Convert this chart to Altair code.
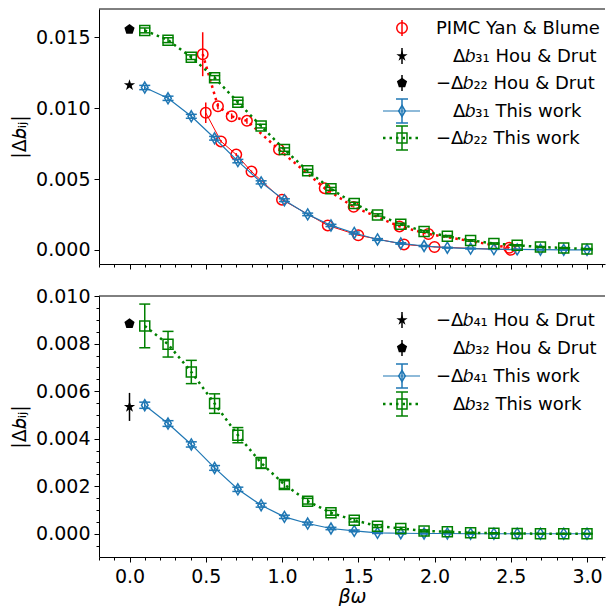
import altair as alt
import pandas as pd

FONT = "DejaVu Sans"

# ---------------- data ----------------
x_tw = [0.1, 0.2526, 0.4053, 0.5579, 0.7105, 0.8632, 1.0158, 1.1684, 1.3211, 1.4737,
        1.6263, 1.7789, 1.9316, 2.0842, 2.2368, 2.3895, 2.5421, 2.6947, 2.8474, 3.0]

b31_tw = [0.01146, 0.0107, 0.00943, 0.00788, 0.00627, 0.00477, 0.00351, 0.00251, 0.00173, 0.0012,
          0.00074, 0.00046, 0.00028, 0.00016, 0.0001, 0.00006, 0.00004, 0.00002, 0.00001, 0.00001]
b31_tw_err = [0.00015, 0.00015, 0.00014, 0.00013, 0.00012, 0.00011, 0.0001, 0.00009, 0.00008, 0.00007,
              0.00006, 0.00005, 0.00004, 0.00003, 0.00003, 0.00002, 0.00002, 0.00002, 0.00001, 0.00001]
b22_tw = [0.01549, 0.0148, 0.0136, 0.01215, 0.01042, 0.00874, 0.00708, 0.00558, 0.00431, 0.00327,
          0.00247, 0.00182, 0.00131, 0.00097, 0.00067, 0.00046, 0.00033, 0.00021, 0.00014, 0.00007]
b22_tw_err = [0.00017, 0.00017, 0.00016, 0.00015, 0.00014, 0.00013, 0.00012, 0.00011, 0.0001, 0.00009,
              0.00008, 0.00007, 0.00006, 0.00005, 0.00005, 0.00004, 0.00004, 0.00003, 0.00003, 0.00003]
b41_tw = [0.00541, 0.00464, 0.00376, 0.00277, 0.00187, 0.0012, 0.00071, 0.00043, 0.00022, 0.00012,
          0.00004, 0.00002, 0.00001, 0.00001, 0.0, 0.0, 0.0, 0.0, 0.0, 0.0]
b41_tw_err = [0.00013, 0.00012, 0.00011, 0.0001, 0.00009, 0.00008, 0.00007, 0.00006, 0.00005, 0.00004,
              0.00003, 0.00003, 0.00002, 0.00002, 0.00002, 0.00001, 0.00001, 0.00001, 0.00001, 0.00001]
b32_tw = [0.00875, 0.00798, 0.00681, 0.00548, 0.00415, 0.00298, 0.00207, 0.00137, 0.00088, 0.00057,
          0.00032, 0.00022, 0.00012, 0.00008, 0.00004, 0.00002, 0.00001, 0.0, 0.0, 0.0]
b32_tw_err = [0.00092, 0.00054, 0.00049, 0.00041, 0.00032, 0.00023, 0.00016, 0.00012, 0.0001, 0.00008,
              0.00006, 0.00005, 0.00004, 0.00003, 0.00002, 0.00002, 0.00001, 0.00001, 0.00001, 0.00001]

pimc31_x = [0.5, 0.6, 0.7, 0.8, 1.0, 1.3, 1.5, 1.8, 2.0, 2.5]
pimc31 = [0.00968, 0.00766, 0.00673, 0.00553, 0.00355, 0.00173, 0.00104, 0.00039, 0.00021, 0.00001]
pimc31_err = [0.00073, 0.0001, 0.0001, 0.00008, 0.00005, 0.00004, 0.00003, 0.00002, 0.00002, 0.00002]
pimc22_x = [0.48, 0.58, 0.67, 0.77, 0.98, 1.28, 1.47, 1.77, 1.96, 2.49]
pimc22 = [0.01381, 0.01014, 0.00943, 0.00911, 0.00708, 0.00436, 0.00304, 0.00166, 0.00113, 0.00016]
pimc22_err = [0.00155, 0.00022, 0.0002, 0.0002, 0.0001, 0.0001, 0.00005, 0.00004, 0.00003, 0.00003]

hd_x = [0.0]
hd31 = [0.01163]
hd31_err = [0.00006]
hd22 = [0.01556]
hd22_err = [0.00006]
hd41 = [0.00534]
hd41_err = [0.00059]
hd32 = [0.00885]
hd32_err = [0.00012]

x_major = [0.0, 0.5, 1.0, 1.5, 2.0, 2.5, 3.0]
x_minor = [-0.2, -0.1, 0.1, 0.2, 0.3, 0.4, 0.6, 0.7, 0.8, 0.9, 1.1, 1.2, 1.3, 1.4, 1.6, 1.7,
           1.8, 1.9, 2.1, 2.2, 2.3, 2.4, 2.6, 2.7, 2.8, 2.9, 3.1]
y_top_major = [0.0, 0.005, 0.010, 0.015]
y_bot_major = [0.0, 0.002, 0.004, 0.006, 0.008, 0.010]
y_bot_minor = [-0.0005, 0.0005, 0.001, 0.0015, 0.0025, 0.003, 0.0035, 0.0045, 0.005, 0.0055,
               0.0065, 0.007, 0.0075, 0.0085, 0.009, 0.0095]

top_labels = ["PIMC Yan & Blume", "Δ𝑏₃₁ Hou & Drut", "−Δ𝑏₂₂ Hou & Drut",
              "Δ𝑏₃₁ This work", "−Δ𝑏₂₂ This work"]
bot_labels = ["−Δ𝑏₄₁ Hou & Drut", "Δ𝑏₃₂ Hou & Drut", "−Δ𝑏₄₁ This work", "Δ𝑏₃₂ This work"]

# ---------------- styling ----------------
W = 506
H_TOP = 255
H_BOT = 261
XDOM = [-0.2, 3.118]
BLUE = "#1f77b4"
GREEN = "#008000"
RED = "#ff0000"
FS = 19
LFS = 18

THIN_DIAMOND = "M0,-1L0.6,0L0,1L-0.6,0Z"
PENTAGON = "M0,-1L0.951,-0.309L0.588,0.809L-0.588,0.809L-0.951,-0.309Z"
STAR = ("M0,-1L0.2245,-0.309L0.951,-0.309L0.363,0.118L0.588,0.809L0,0.382"
        "L-0.588,0.809L-0.363,0.118L-0.951,-0.309L-0.2245,-0.309Z")

STYLES = {
    "pimc31": dict(color=RED, shape="circle", size=110, filled=False, line=dict(width=1.0, dash=None), caps=False),
    "pimc22": dict(color=RED, shape="circle", size=110, filled=False, line=dict(width=2.5, dash=[2.5, 4]), caps=False),
    "hd_star": dict(color="black", shape=STAR, size=140, filled=True, line=None, caps=False),
    "hd_pent": dict(color="black", shape=PENTAGON, size=115, filled=True, line=None, caps=False),
    "tw_blue": dict(color=BLUE, shape=THIN_DIAMOND, size=121, filled=False, line=dict(width=1.2, dash=None), caps=True),
    "tw_green": dict(color=GREEN, shape="square", size=100, filled=False, line=dict(width=2.5, dash=[2.5, 4]), caps=True),
}


def series_layers(xs, ys, errs, style, xscale, yscale):
    df = pd.DataFrame({"x": xs, "y": ys,
                       "lo": [a - b for a, b in zip(ys, errs)],
                       "hi": [a + b for a, b in zip(ys, errs)]})
    X = alt.X("x:Q", scale=xscale, axis=None)
    Y = alt.Y("y:Q", scale=yscale, axis=None)
    c = style["color"]
    layers = []
    if style["line"]:
        kw = dict(color=c, strokeWidth=style["line"]["width"])
        if style["line"]["dash"]:
            kw["strokeDash"] = style["line"]["dash"]
        layers.append(alt.Chart(df).mark_line(**kw).encode(x=X, y=Y))
    layers.append(alt.Chart(df).mark_rule(color=c, strokeWidth=1.5).encode(
        x=X, y=alt.Y("lo:Q", scale=yscale, axis=None), y2="hi:Q"))
    if style["caps"]:
        for col in ["lo", "hi"]:
            layers.append(alt.Chart(df).mark_tick(orient="horizontal", color=c, size=11, thickness=1.5, opacity=1).encode(
                x=X, y=alt.Y(f"{col}:Q", scale=yscale, axis=None)))
    pkw = dict(shape=style["shape"], size=style["size"], opacity=1, strokeWidth=1.5)
    if style["filled"]:
        pkw.update(filled=True, color=c)
    else:
        pkw.update(filled=False, color=c, fill=None)
    layers.append(alt.Chart(df).mark_point(**pkw).encode(x=X, y=Y))
    return layers


one = pd.DataFrame({"x": [0.0], "y": [0.0]})


def legend_layers(entries):
    layers = []
    for label, style_key, yy, xt in entries:
        st = STYLES[style_key]
        c = st["color"]
        mx = 303
        if st["caps"]:
            kw = dict(color=c, strokeWidth=st["line"]["width"])
            if st["line"]["dash"]:
                kw["strokeDash"] = st["line"]["dash"]
            layers.append(alt.Chart(one).mark_rule(**kw).encode(
                x=alt.value(284), x2=alt.value(321), y=alt.value(yy)))
            half = 12
            for cy in [yy - half, yy + half]:
                layers.append(alt.Chart(one).mark_rule(color=c, strokeWidth=1.5).encode(
                    x=alt.value(mx - 6), x2=alt.value(mx + 6), y=alt.value(cy)))
        else:
            half = 8
        layers.append(alt.Chart(one).mark_rule(color=c, strokeWidth=1.5).encode(
            x=alt.value(mx), y=alt.value(yy - half), y2=alt.value(yy + half)))
        pkw = dict(shape=st["shape"], size=st["size"], opacity=1, strokeWidth=1.5)
        if st["filled"]:
            pkw.update(filled=True, color=c)
        else:
            pkw.update(filled=False, color=c, fill=None)
        layers.append(alt.Chart(one).mark_point(**pkw).encode(x=alt.value(mx), y=alt.value(yy)))
        layers.append(alt.Chart(one).mark_text(align="left", baseline="middle", font=FONT, fontSize=LFS,
                                               color="black").encode(
            x=alt.value(xt), y=alt.value(yy + 1), text=alt.value(label)))
    return layers


def axis_layers(xscale, yscale, y_major, y_minor, bottom):
    if bottom:
        xax = alt.Axis(values=x_major, format=".1f", tickSize=5, labelPadding=5, orient="bottom",
                       title="βω", titleFontStyle="italic", titlePadding=1, labelOverlap=False)
    else:
        xax = alt.Axis(values=x_major, labels=False, tickSize=5, orient="bottom", title=None)
    yax = alt.Axis(values=y_major, format=".3f", tickSize=5, labelPadding=4, orient="left",
                   title="|Δ𝑏ᵢⱼ|", titlePadding=6, labelOverlap=False)
    major = alt.Chart(one).mark_point(opacity=0).encode(
        x=alt.X("x:Q", scale=xscale, axis=xax), y=alt.Y("y:Q", scale=yscale, axis=yax))
    xmin = alt.Axis(values=x_minor, labels=False, domain=False, tickSize=3, orient="bottom", title=None)
    if y_minor:
        ymin = alt.Axis(values=y_minor, labels=False, domain=False, tickSize=3, orient="left", title=None)
    else:
        ymin = None
    minor = alt.Chart(one).mark_point(opacity=0).encode(
        x=alt.X("x:Q", scale=xscale, axis=xmin), y=alt.Y("y:Q", scale=yscale, axis=ymin))
    spine = alt.Chart(one).mark_rule(color="black", strokeWidth=1).encode(
        x=alt.value(0), x2=alt.value(W), y=alt.value(0))
    return [major, minor, spine]


# ---------------- top panel ----------------
xs_top = alt.Scale(domain=XDOM, nice=False, zero=False)
ys_top = alt.Scale(domain=[-0.00099, 0.0170], nice=False, zero=False)

top_layers = axis_layers(xs_top, ys_top, y_top_major, None, False)
top_layers += series_layers(pimc31_x, pimc31, pimc31_err, STYLES["pimc31"], xs_top, ys_top)
top_layers += series_layers(pimc22_x, pimc22, pimc22_err, STYLES["pimc22"], xs_top, ys_top)
top_layers += series_layers(hd_x, hd31, hd31_err, STYLES["hd_star"], xs_top, ys_top)
top_layers += series_layers(hd_x, hd22, hd22_err, STYLES["hd_pent"], xs_top, ys_top)
top_layers += series_layers(x_tw, b31_tw, b31_tw_err, STYLES["tw_blue"], xs_top, ys_top)
top_layers += series_layers(x_tw, b22_tw, b22_tw_err, STYLES["tw_green"], xs_top, ys_top)
top_layers += legend_layers([
    (top_labels[0], "pimc31", 19, 337),
    (top_labels[1], "hd_star", 47, 354),
    (top_labels[2], "hd_pent", 74, 337),
    (top_labels[3], "tw_blue", 102, 354),
    (top_labels[4], "tw_green", 129, 337),
])
top = alt.layer(*top_layers).resolve_axis(x="independent", y="independent").properties(width=W, height=H_TOP)

# ---------------- bottom panel ----------------
xs_bot = alt.Scale(domain=XDOM, nice=False, zero=False)
ys_bot = alt.Scale(domain=[-0.00098, 0.01001], nice=False, zero=False)

bot_layers = axis_layers(xs_bot, ys_bot, y_bot_major, y_bot_minor, True)
bot_layers += series_layers(hd_x, hd41, hd41_err, STYLES["hd_star"], xs_bot, ys_bot)
bot_layers += series_layers(hd_x, hd32, hd32_err, STYLES["hd_pent"], xs_bot, ys_bot)
bot_layers += series_layers(x_tw, b41_tw, b41_tw_err, STYLES["tw_blue"], xs_bot, ys_bot)
bot_layers += series_layers(x_tw, b32_tw, b32_tw_err, STYLES["tw_green"], xs_bot, ys_bot)
bot_layers += legend_layers([
    (bot_labels[0], "hd_star", 24, 337),
    (bot_labels[1], "hd_pent", 52, 354),
    (bot_labels[2], "tw_blue", 80, 337),
    (bot_labels[3], "tw_green", 108, 354),
])
bottom = alt.layer(*bot_layers).resolve_axis(x="independent", y="independent").properties(width=W, height=H_BOT)

chart = alt.vconcat(top, bottom, spacing=17).properties(
    padding={"left": 2, "top": 0, "right": 0, "bottom": 0},
    background="white",
).configure_view(stroke=None).configure_axis(
    domainColor="black", tickColor="black", labelColor="black", titleColor="black",
    labelFont=FONT, titleFont=FONT, labelFontSize=FS, titleFontSize=FS,
    titleFontWeight="normal", grid=False, domainWidth=1, tickWidth=1,
)

chart.save("out.html", embed_options={"renderer": "svg", "actions": False})
